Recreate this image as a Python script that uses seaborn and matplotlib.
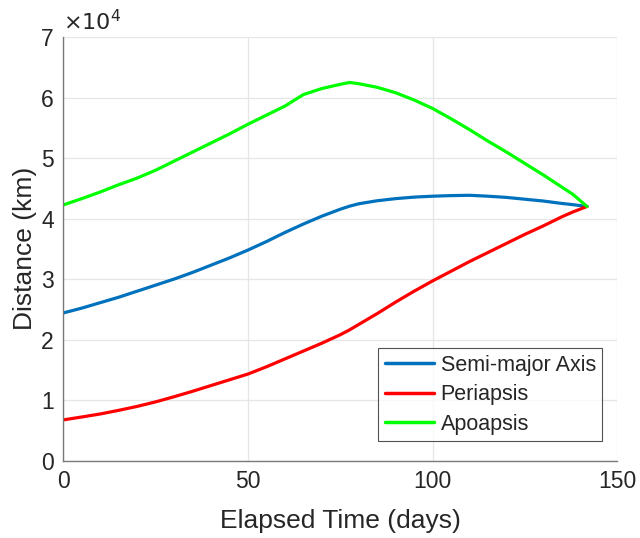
import numpy as np
import pandas as pd
import matplotlib
matplotlib.use("Agg")
import matplotlib.pyplot as plt
import seaborn as sns

# Elapsed time (days)
time_days = [0, 5, 10, 15, 20, 25, 30, 35, 40, 45, 50, 55, 60, 65, 70, 75, 77.5,
             80, 85, 90, 95, 100, 105, 110, 115, 120, 125, 130, 135, 138, 141.8]
# Distances (km)
semi_major = [24400, 25200, 26100, 27000, 28000, 29000, 30000, 31100, 32300, 33500, 34800,
              36200, 37700, 39100, 40400, 41550, 42050, 42450, 42950, 43300, 43550, 43700,
              43800, 43850, 43700, 43500, 43200, 42900, 42500, 42300, 42000]
periapsis = [6720, 7200, 7700, 8300, 8950, 9700, 10550, 11450, 12400, 13350, 14300,
             15500, 16800, 18100, 19400, 20800, 21600, 22500, 24300, 26200, 28000, 29700,
             31300, 32900, 34400, 35900, 37400, 38800, 40300, 41100, 42000]
apoapsis = [42260, 43300, 44400, 45600, 46700, 48000, 49500, 51000, 52500, 54000, 55600,
            57100, 58600, 60500, 61500, 62200, 62500, 62300, 61700, 60800, 59600, 58200,
            56500, 54700, 52800, 51000, 49100, 47200, 45200, 44000, 42000]
series_names = ["Semi-major Axis", "Periapsis", "Apoapsis"]
colors = ["#0072BD", "#FF0000", "#00FF00"]

df = pd.concat([
    pd.DataFrame({"t": time_days, "d": vals, "series": name})
    for name, vals in zip(series_names, [semi_major, periapsis, apoapsis])
], ignore_index=True)

sns.set_style("white")
plt.rcParams["font.family"] = ["Liberation Sans", "DejaVu Sans"]

fig = plt.figure(figsize=(6.4, 5.38), dpi=100)
ax = fig.add_axes([0.099, 0.144, 0.8655, 0.787])

sns.lineplot(data=df, x="t", y="d", hue="series", hue_order=series_names,
             palette=colors, linewidth=2.3, ax=ax, sort=False, estimator=None)

ax.set_xlim(0, 150)
ax.set_ylim(0, 70000)
ax.set_xticks([0, 50, 100, 150])
ax.set_yticks(np.arange(0, 70001, 10000))
ax.set_yticklabels([str(i) for i in range(8)])
ax.text(0.0, 1.005, r"$\times10^{4}$", transform=ax.transAxes, fontsize=16,
        color="#262626", ha="left", va="bottom")

ax.grid(True, color="#e6e6e6", linewidth=0.9)
ax.set_axisbelow(True)
for s in ["top", "right"]:
    ax.spines[s].set_visible(False)
for s in ["left", "bottom"]:
    ax.spines[s].set_color("#7a7a7a")
    ax.spines[s].set_linewidth(1.0)
ax.tick_params(direction="in", length=5, width=0.8, color="#555555",
               labelsize=16.5, labelcolor="#262626", pad=7)

ax.set_xlabel("Elapsed Time (days)", fontsize=19, color="#262626", labelpad=11)
ax.set_ylabel("Distance (km)", fontsize=19, color="#262626", labelpad=3)

leg = ax.legend(loc="lower right", bbox_to_anchor=(0.973, 0.045), fontsize=15.5,
                frameon=True, fancybox=False, edgecolor="#262626",
                handlelength=2.3, handletextpad=0.3, borderpad=0.3,
                labelspacing=0.4, borderaxespad=0.0)
leg.get_frame().set_linewidth(0.8)
for line in leg.get_lines():
    line.set_linewidth(2.5)

fig.savefig("out.png", dpi=100)
